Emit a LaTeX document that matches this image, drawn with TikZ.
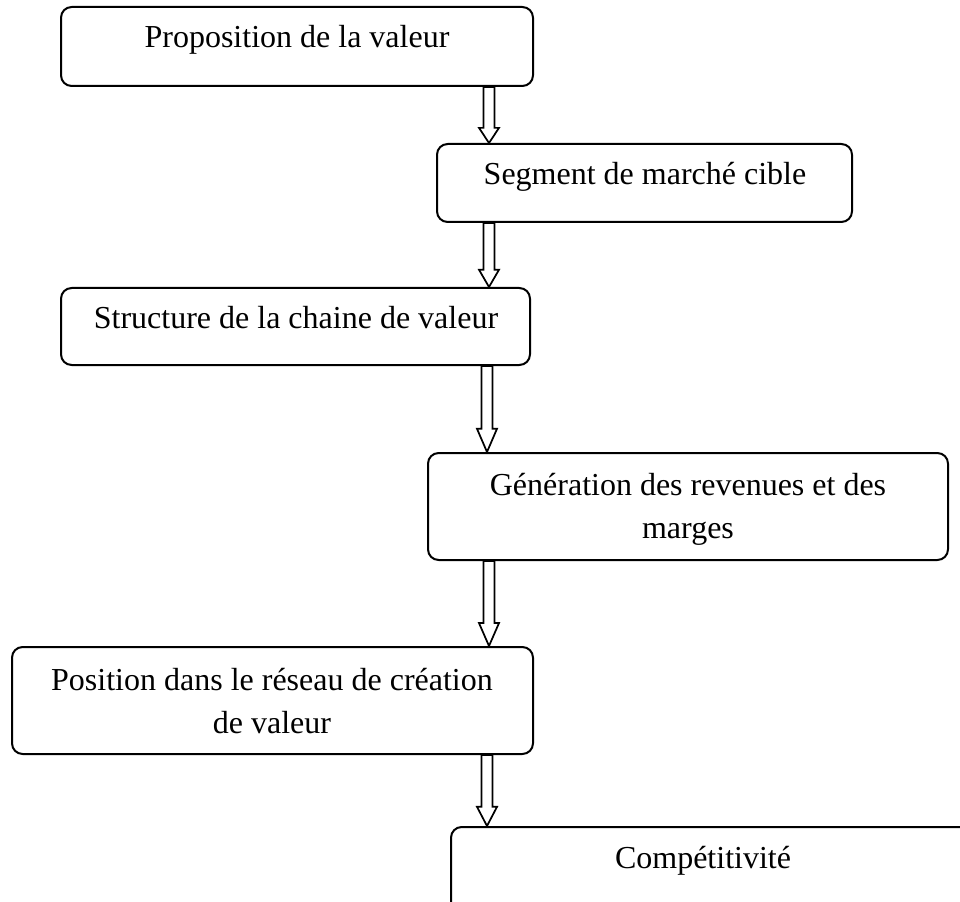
\documentclass[tikz,border=0pt]{standalone}
\usepackage{fontspec}
\setmainfont{Liberation Serif}
\usetikzlibrary{calc,fit}
\tikzset{
  stepbox/.style={draw, line width=1.5pt, rounded corners=8pt, inner sep=0pt},
  boxtext/.style={font=\fontsize{24}{32}\selectfont, align=center, anchor=base, inner sep=0pt},
  blockarrow/.style={draw, fill=white, line width=1.3pt, line join=miter,
    to path={
      ($(\tikztostart)+(-5.5,0)$)
      -- ($(\tikztostart)!0.73!(\tikztotarget)+(-5.5,0)$)
      -- ($(\tikztostart)!0.73!(\tikztotarget)+(-10,0)$)
      -- (\tikztotarget)
      -- ($(\tikztostart)!0.73!(\tikztotarget)+(10,0)$)
      -- ($(\tikztostart)!0.73!(\tikztotarget)+(5.5,0)$)
      -- ($(\tikztostart)+(5.5,0)$) -- cycle}}
}
\begin{document}
\begin{tikzpicture}[x=0.75pt,y=-0.75pt]
  \useasboundingbox (0,0) rectangle (960,902);

  % the six steps
  \node[stepbox, fit={(61,7) (533,86)}] (b1) {};
  \node[stepbox, fit={(437,144) (852,222)}] (b2) {};
  \node[stepbox, fit={(61,288) (530,365)}] (b3) {};
  \node[stepbox, fit={(428,453) (948,560)}] (b4) {};
  \node[stepbox, fit={(12,647) (533,754)}] (b5) {};
  \node[stepbox, fit={(451,827) (995,940)}] (b6) {};

  % their texts (base = baseline of the last line)
  \node[boxtext] (t1) at (297,48) {Proposition de la valeur};
  \node[boxtext] (t2) at (645,185) {Segment de marché cible};
  \node[boxtext] (t3) at (296,329) {Structure de la chaine de valeur};
  \node[boxtext] (t4) at (688,538) {Génération des revenues et des\\marges};
  \node[boxtext] (t5) at (272,733) {Position dans le réseau de création\\de valeur};
  \node[boxtext] (t6) at (703,868) {Compétitivité};

  % x positions of the hollow arrows
  \coordinate (a1) at (489,0);
  \coordinate (a2) at (489,0);
  \coordinate (a3) at (487,0);
  \coordinate (a4) at (489,0);
  \coordinate (a5) at (487,0);

  \draw[blockarrow] (b1.south -| a1) to (b2.north -| a1);
  \draw[blockarrow] (b2.south -| a2) to (b3.north -| a2);
  \draw[blockarrow] (b3.south -| a3) to (b4.north -| a3);
  \draw[blockarrow] (b4.south -| a4) to (b5.north -| a4);
  \draw[blockarrow] (b5.south -| a5) to (b6.north -| a5);
\end{tikzpicture}
\end{document}
